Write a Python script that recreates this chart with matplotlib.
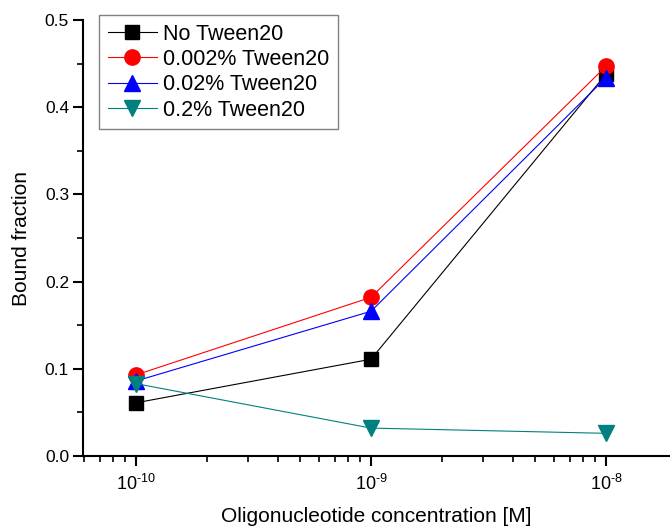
import numpy as np
import matplotlib
matplotlib.use('Agg')
import matplotlib.pyplot as plt
from matplotlib.ticker import FixedLocator, LogLocator, MultipleLocator, NullFormatter

plt.rcParams['font.family'] = ['Liberation Sans', 'DejaVu Sans']
plt.rcParams['mathtext.fontset'] = 'custom'
plt.rcParams['mathtext.rm'] = 'Liberation Sans'
plt.rcParams['mathtext.it'] = 'Liberation Sans'

# Data
conc = [1e-10, 1e-9, 1e-8]
no_tween = [0.061, 0.111, 0.438]
tween_0002 = [0.093, 0.182, 0.447]
tween_002 = [0.086, 0.166, 0.434]
tween_02 = [0.083, 0.032, 0.026]
labels = ['No Tween20', '0.002% Tween20', '0.02% Tween20', '0.2% Tween20']
xtick_exp = [-10, -9, -8]

fig = plt.figure(figsize=(6.7, 5.29), dpi=100)
ax = fig.add_axes([83 / 670, 73 / 529, 1 - 83 / 670, (456 - 20) / 529])

ax.plot(conc, no_tween, color='black', lw=0.8, marker='s', ms=10, label=labels[0])
ax.plot(conc, tween_0002, color='red', lw=0.8, marker='o', ms=11, label=labels[1])
ax.plot(conc, tween_002, color='blue', lw=0.8, marker='^', ms=11, label=labels[2])
ax.plot(conc, tween_02, color='#008080', lw=0.8, marker='v', ms=11, label=labels[3])

ax.set_xscale('log')
ax.set_xlim(10 ** -10.2255, 10 ** -7.728)
ax.set_ylim(0, 0.5)

ax.xaxis.set_major_locator(FixedLocator([10.0 ** e for e in xtick_exp]))
ax.set_xticklabels([r'10$^{\text{-%d}}$' % -e for e in xtick_exp])
ax.xaxis.set_minor_locator(LogLocator(base=10, subs=np.arange(2, 10), numticks=20))
ax.xaxis.set_minor_formatter(NullFormatter())
ax.yaxis.set_major_locator(MultipleLocator(0.1))
ax.yaxis.set_minor_locator(MultipleLocator(0.05))
ax.yaxis.set_major_formatter(plt.FuncFormatter(lambda v, p: f'{v:.1f}'))

for s in ['top', 'right']:
    ax.spines[s].set_visible(False)
for s in ['left', 'bottom']:
    ax.spines[s].set_linewidth(1.5)
ax.tick_params(which='major', direction='out', length=7, width=1.5)
ax.tick_params(which='minor', direction='out', length=4, width=1.2)
ax.tick_params(axis='y', labelsize=12.5, pad=3)
ax.tick_params(axis='x', labelsize=13, pad=6)

ax.set_xlabel('Oligonucleotide concentration [M]', fontsize=15, labelpad=9)
ax.set_ylabel('Bound fraction', fontsize=15, labelpad=10)

leg = ax.legend(loc='upper left', bbox_to_anchor=(99 / 670, 1 - 15 / 529),
                bbox_transform=fig.transFigure, borderaxespad=0, fancybox=False,
                fontsize=15.5, handlelength=2.3, handletextpad=0.28,
                labelspacing=0.2, borderpad=0.4, framealpha=1)
leg.get_frame().set_edgecolor('gray')
leg.get_frame().set_linewidth(1.0)

fig.savefig('out.png', dpi=100)
